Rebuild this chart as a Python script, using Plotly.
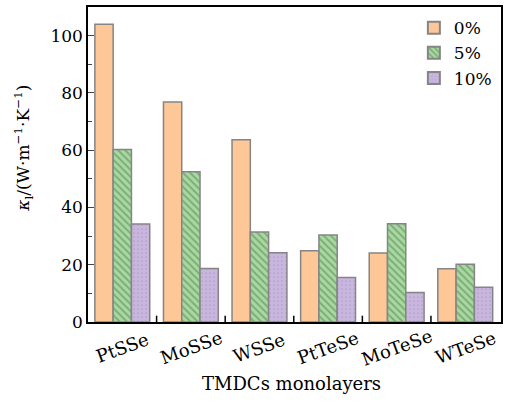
import plotly.graph_objects as go

categories = ["PtSSe", "MoSSe", "WSSe", "PtTeSe", "MoTeSe", "WTeSe"]
series_names = ["0%", "5%", "10%"]
v0 = [104.0, 76.8, 63.6, 24.9, 24.1, 18.6]
v5 = [60.2, 52.5, 31.4, 30.4, 34.3, 20.2]
v10 = [34.2, 18.7, 24.2, 15.5, 10.3, 12.1]

FONT = "DejaVu Serif"
fig = go.Figure()
fig.add_bar(x=categories, y=v0, name=series_names[0],
            marker=dict(color="#FDC797", line=dict(color="#858585", width=1.5)))
fig.add_bar(x=categories, y=v5, name=series_names[1],
            marker=dict(color="#A9D9A0", line=dict(color="#858585", width=1.5),
                        pattern=dict(shape="\\", fgcolor="#4F7F52", bgcolor="#A9D9A0",
                                     size=5, solidity=0.4)))
fig.add_bar(x=categories, y=v10, name=series_names[2],
            marker=dict(color="#C9B6DE", line=dict(color="#858585", width=1.5),
                        pattern=dict(shape=".", fgcolor="#9C88B4", bgcolor="#C9B6DE",
                                     size=4, solidity=0.15)))

fig.update_layout(
    width=508, height=403,
    margin=dict(l=88, r=6, t=5, b=81),
    paper_bgcolor="white", plot_bgcolor="white",
    barmode="group", bargap=0.2, bargroupgap=0,
    font=dict(family=FONT, size=17, color="black"),
    showlegend=True,
    legend=dict(x=0.99, y=0.99, xanchor="right", yanchor="top",
                bgcolor="rgba(0,0,0,0)", font=dict(size=17),
                itemsizing="constant", tracegroupgap=0),
)
fig.update_xaxes(
    showline=True, linecolor="black", linewidth=1.5, mirror=True,
    ticks="", showticklabels=False, showgrid=False,
)
fig.update_yaxes(
    range=[0, 110], dtick=20, showline=True, linecolor="black", linewidth=1.5,
    mirror=True, ticks="inside", ticklen=6, tickwidth=1.2, showgrid=False,
    zeroline=False, tickfont=dict(size=17),
    minor=dict(dtick=10, ticks="inside", ticklen=4, tickwidth=1.2),
)
# category tick labels, rotated
for c in categories:
    fig.add_annotation(x=c, xref="x", y=0, yref="paper", text=c, showarrow=False,
                       textangle=-20, yanchor="middle", xanchor="center",
                       yshift=-25, font=dict(size=18))
# axis titles
fig.add_annotation(x=0.5, xref="paper", y=0, yref="paper", text="TMDCs monolayers",
                   showarrow=False, yanchor="middle", yshift=-61, xshift=-3,
                   font=dict(size=18))
fig.add_annotation(x=0, xref="paper", y=0.55, yref="paper",
                   text="<i>κ</i><sub>l</sub>/(W·m<sup>−1</sup>·K<sup>−1</sup>)",
                   showarrow=False, textangle=-90, xanchor="center", yanchor="middle",
                   xshift=-64, font=dict(size=17))
# category separator ticks on x-axis (inside, at boundaries)
for i in range(1, len(categories)):
    fig.add_shape(type="line", xref="x", yref="paper", x0=i - 0.5, x1=i - 0.5,
                  y0=0, y1=0.02, line=dict(color="black", width=1.5))

fig.write_html("out.html")
